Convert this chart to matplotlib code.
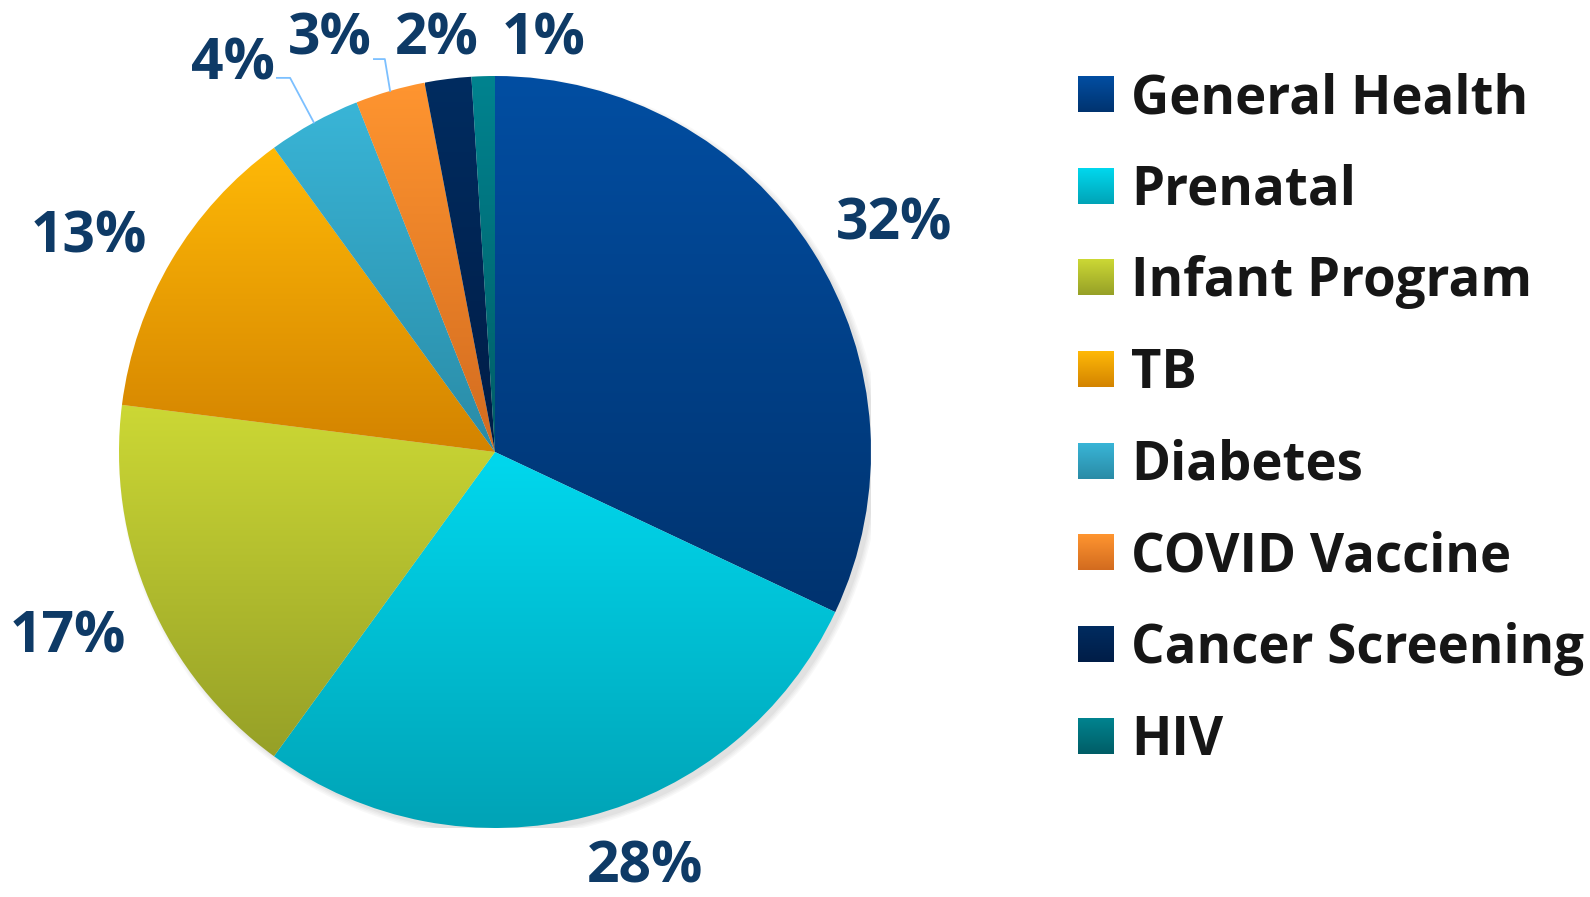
import numpy as np
import matplotlib
matplotlib.use("Agg")
import matplotlib.pyplot as plt
from matplotlib.colors import LinearSegmentedColormap
from matplotlib.patches import Circle

plt.rcParams['font.family'] = ['Open Sans', 'DejaVu Sans']

# ---- data ----
categories = ["General Health", "Prenatal", "Infant Program", "TB",
              "Diabetes", "COVID Vaccine", "Cancer Screening", "HIV"]
shares = [32, 28, 17, 13, 4, 3, 2, 1]

# colour at top / bottom of each slice (vertical gradient)
top_colors = ["#024EA2", "#00D8EE", "#CCD835", "#FFB907",
              "#39B5D7", "#FF9530", "#002C60", "#00838F"]
bot_colors = ["#00336F", "#00A3B6", "#96A027", "#D38300",
              "#2A8BA6", "#D26B1F", "#001D47", "#005D66"]

# label centres (pie-radius units) and leader elbows for the small ones
label_pos = [(1.061, 0.622), (0.399, -1.088), (-1.136, -0.476), (-1.080, 0.588),
             (-0.697, 1.048), (-0.439, 1.114), (-0.154, 1.114), (0.128, 1.114)]
leaders = {4: [(-0.545, 0.995), (-0.580, 0.995)],
           5: [(-0.293, 1.045), (-0.322, 1.045)]}

label_color = "#0E3A66"
text_color = "#161616"
leader_color = "#7CC0FF"

W, H = 1590, 897
fig = plt.figure(figsize=(W / 100, H / 100), dpi=100)

cx, cy, R = 495, 452, 376
ax = fig.add_axes([(cx - R) / W, (H - cy - R) / H, 2 * R / W, 2 * R / H])

# soft shadow behind the pie
for k, a in enumerate([0.05, 0.05, 0.06, 0.08]):
    ax.add_patch(Circle((0.012, -0.012), 1.0 + 0.012 - k * 0.004,
                        color="#808080", alpha=a, lw=0, zorder=0))

wedges, _ = ax.pie(shares, startangle=90, counterclock=False, radius=1.0,
                   wedgeprops=dict(linewidth=0))

grad = np.linspace(0, 1, 256).reshape(-1, 1)
for w, c0, c1 in zip(wedges, top_colors, bot_colors):
    w.set_facecolor("none")
    w.set_zorder(2)
    bb = w.get_path().get_extents(w.get_transform() - ax.transData)
    cmap = LinearSegmentedColormap.from_list("g", [c0, c1])
    im = ax.imshow(grad, cmap=cmap, origin="upper", aspect="auto",
                   extent=(bb.x0, bb.x1, bb.y0, bb.y1), interpolation="bilinear",
                   zorder=1)
    im.set_clip_path(w)

# percentage labels
for i, (s, (lx, ly)) in enumerate(zip(shares, label_pos)):
    ax.text(lx, ly - 0.057, f"{s}%", ha="center", va="baseline",
            fontsize=41, fontweight="bold", color=label_color, zorder=5)
    if i in leaders:
        ang = 90 - 360 * (sum(shares[:i]) + shares[i] / 2) / sum(shares)
        p0 = (np.cos(np.radians(ang)), np.sin(np.radians(ang)))
        xs = [p0[0]] + [p[0] for p in leaders[i]]
        ys = [p0[1]] + [p[1] for p in leaders[i]]
        ax.plot(xs, ys, color=leader_color, lw=1.3, zorder=4, clip_on=False)

ax.set_xlim(-1, 1)
ax.set_ylim(-1, 1)
ax.set_aspect("equal")
ax.axis("off")

# ---- legend drawn by hand (gradient swatches) ----
lax = fig.add_axes([0, 0, 1, 1])
lax.set_xlim(0, W)
lax.set_ylim(H, 0)
lax.axis("off")
y0, step, sw = 94, 91.7, 36
for i, (name, c0, c1) in enumerate(zip(categories, top_colors, bot_colors)):
    yc = y0 + i * step
    cmap = LinearSegmentedColormap.from_list("g", [c0, c1])
    lax.imshow(grad, cmap=cmap, origin="upper", aspect="auto",
               extent=(1078, 1078 + sw, yc + sw / 2, yc - sw / 2),
               interpolation="bilinear")
    lax.text(1131, yc + 19, name, ha="left", va="baseline",
             fontsize=38, fontweight="bold", color=text_color)
lax.set_xlim(0, W)
lax.set_ylim(H, 0)

fig.savefig("out.png", dpi=100)
